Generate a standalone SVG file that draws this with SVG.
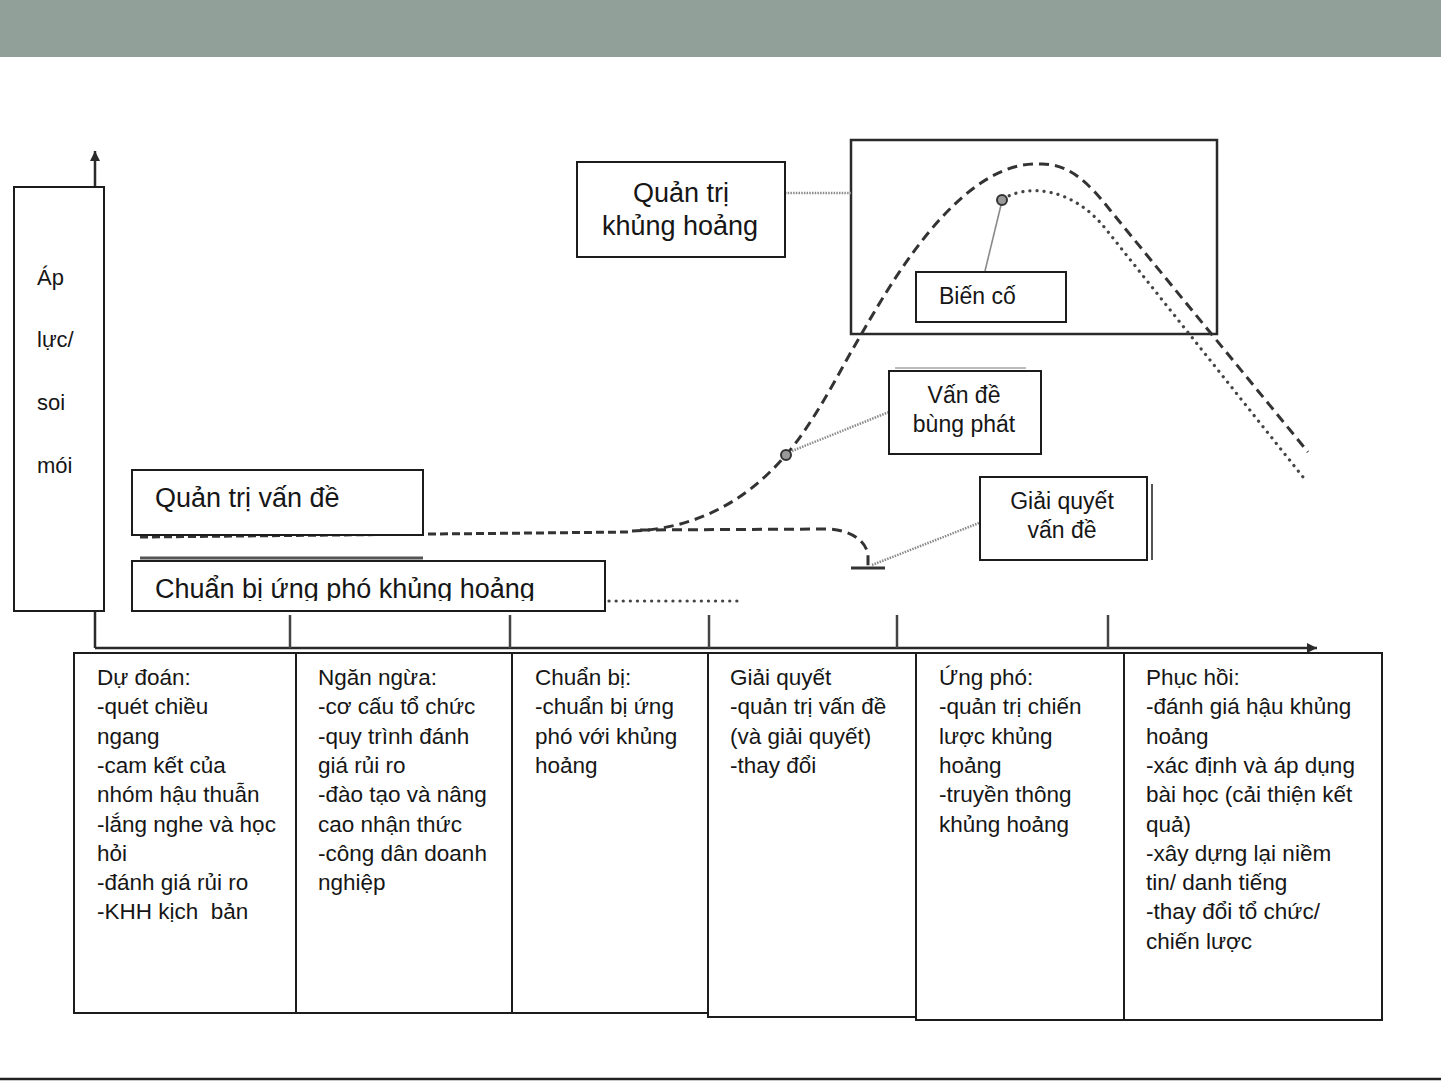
<svg xmlns="http://www.w3.org/2000/svg" width="1441" height="1081" viewBox="0 0 1441 1081">
<style>
  text { font-family: "Liberation Sans", Arial, sans-serif; fill: #161616; }
  .box { fill: #ffffff; stroke: #1c1c1c; stroke-width: 2; }
  .lbl { font-size: 27px; }
  .sm { font-size: 23px; }
  .body { font-size: 22.5px; white-space: pre; }
  .axis { stroke: #2a2a2a; stroke-width: 2.5; fill: none; }
  .tick { stroke: #444; stroke-width: 2.5; }
  .dash { stroke: #333; stroke-width: 3; fill: none; stroke-dasharray: 10 6; }
  .dashh { stroke: #333; stroke-width: 3; fill: none; stroke-dasharray: 8 4; }
  .dot { stroke: #444; stroke-width: 3.2; fill: none; stroke-dasharray: 0.1 7; stroke-linecap: round; }
  .lead { stroke: #8a8a8a; stroke-width: 2.5; fill: none; stroke-dasharray: 1.5 1.2; }
  .leads { stroke: #8a8a8a; stroke-width: 1.6; fill: none; }
  .pt { fill: #9a9a9a; stroke: #333; stroke-width: 2; }
</style>
<defs>
  <marker id="arr" viewBox="0 0 10 10" refX="10" refY="5" markerWidth="10" markerHeight="10" markerUnits="userSpaceOnUse" orient="auto">
    <path d="M0,0 L10,5 L0,10 z" fill="#2a2a2a"/>
  </marker>
  <clipPath id="clipPrep"><rect x="133" y="562" width="470" height="39"/></clipPath>
</defs>

<rect id="header" x="0" y="0" width="1441" height="57" fill="#91a199"/>
<line x1="0" y1="1079" x2="1441" y2="1079" stroke="#222" stroke-width="2.5"/>

<g id="connectors">
  <line class="axis" x1="95" y1="648" x2="95" y2="151" marker-end="url(#arr)"/>
  <line class="axis" x1="95" y1="648" x2="1317" y2="648" marker-end="url(#arr)"/>
  <line class="tick" x1="290" y1="615" x2="290" y2="648"/>
  <line class="tick" x1="510" y1="615" x2="510" y2="648"/>
  <line class="tick" x1="709" y1="615" x2="709" y2="648"/>
  <line class="tick" x1="897" y1="615" x2="897" y2="648"/>
  <line class="tick" x1="1108" y1="615" x2="1108" y2="648"/>
  <rect id="crisis-frame" x="851" y="140" width="366" height="194" fill="none" stroke="#2a2a2a" stroke-width="2.5"/>
  <path class="dashh" d="M140,537 L632,532"/>
  <path class="dash" d="M632,531 C690,529 742,506 786,455 C816,420 840,370 862,333 C890,285 960,160 1040,164 C1068,163 1088,182 1110,210 L1308,452"/>
  <path class="dash" d="M640,530 L828,529 C850,530 866,540 868,555 L868,567"/>
  <line x1="851" y1="568" x2="885" y2="568" stroke="#333" stroke-width="3"/>
  <path class="dot" d="M1003,199 C1025,185 1070,185 1105,228 L1303,477"/>
  <line class="dot" x1="609" y1="601" x2="737" y2="601"/>
  <line x1="140" y1="558" x2="423" y2="558" stroke="#555" stroke-width="3"/>
  <line class="lead" x1="785" y1="193" x2="851" y2="193"/>
  <line class="leads" x1="985" y1="271" x2="1001" y2="205"/>
  <line class="lead" x1="792" y1="451" x2="889" y2="412"/>
  <line class="lead" x1="979" y1="523" x2="872" y2="565"/>
  <line x1="895" y1="368" x2="1026" y2="368" stroke="#bbb" stroke-width="2"/>
  <line x1="1152" y1="484" x2="1152" y2="560" stroke="#555" stroke-width="2"/>
  <circle class="pt" cx="786" cy="455" r="5"/>
  <circle class="pt" cx="1002" cy="200" r="5"/>
</g>

<g id="node-pressure">
  <rect class="box" x="14" y="187" width="90" height="424"/>
  <text font-size="22px" x="37" y="285">Áp</text>
  <text font-size="22px" x="37" y="347">lực/</text>
  <text font-size="22px" x="37" y="410">soi</text>
  <text font-size="22px" x="37" y="473">mói</text>
</g>

<g id="node-issue-mgmt">
  <rect class="box" x="132" y="470" width="291" height="65"/>
  <text class="lbl" x="155" y="507">Quản trị vấn đề</text>
</g>

<g id="node-crisis-prep">
  <rect class="box" x="132" y="561" width="473" height="50"/>
  <text class="lbl" x="155" y="598" clip-path="url(#clipPrep)">Chuẩn bị ứng phó khủng hoảng</text>
</g>

<g id="node-crisis-mgmt">
  <rect class="box" x="577" y="162" width="208" height="95"/>
  <text class="lbl" x="681" y="202" text-anchor="middle">Quản trị</text>
  <text class="lbl" x="680" y="235" text-anchor="middle">khủng hoảng</text>
</g>

<g id="node-event">
  <rect class="box" x="916" y="272" width="150" height="50"/>
  <text class="sm" x="939" y="304">Biến cố</text>
</g>

<g id="node-outbreak">
  <rect class="box" x="889" y="371" width="152" height="83"/>
  <text class="sm" x="964" y="403" text-anchor="middle">Vấn đề</text>
  <text class="sm" x="964" y="432" text-anchor="middle">bùng phát</text>
</g>

<g id="node-resolve">
  <rect class="box" x="980" y="477" width="167" height="83"/>
  <text class="sm" x="1062" y="509" text-anchor="middle">Giải quyết</text>
  <text class="sm" x="1062" y="538" text-anchor="middle">vấn đề</text>
</g>

<g id="phase-forecast">
  <rect class="box" x="74" y="653" width="222" height="360"/>
  <text class="body">
    <tspan x="97" y="685">Dự đoán:</tspan>
    <tspan x="97" y="714.3">-quét chiều</tspan>
    <tspan x="97" y="743.6">ngang</tspan>
    <tspan x="97" y="772.9">-cam kết của</tspan>
    <tspan x="97" y="802.2">nhóm hậu thuẫn</tspan>
    <tspan x="97" y="831.5">-lắng nghe và học</tspan>
    <tspan x="97" y="860.8">hỏi</tspan>
    <tspan x="97" y="890.1">-đánh giá rủi ro</tspan>
    <tspan x="97" y="919.4">-KHH kịch  bản</tspan>
  </text>
</g>

<g id="phase-prevent">
  <rect class="box" x="296" y="653" width="216" height="360"/>
  <text class="body">
    <tspan x="318" y="685">Ngăn ngừa:</tspan>
    <tspan x="318" y="714.3">-cơ cấu tổ chức</tspan>
    <tspan x="318" y="743.6">-quy trình đánh</tspan>
    <tspan x="318" y="772.9">giá rủi ro</tspan>
    <tspan x="318" y="802.2">-đào tạo và nâng</tspan>
    <tspan x="318" y="831.5">cao nhận thức</tspan>
    <tspan x="318" y="860.8">-công dân doanh</tspan>
    <tspan x="318" y="890.1">nghiệp</tspan>
  </text>
</g>

<g id="phase-prepare">
  <rect class="box" x="512" y="653" width="196" height="360"/>
  <text class="body">
    <tspan x="535" y="685">Chuẩn bị:</tspan>
    <tspan x="535" y="714.3">-chuẩn bị ứng</tspan>
    <tspan x="535" y="743.6">phó với khủng</tspan>
    <tspan x="535" y="772.9">hoảng</tspan>
  </text>
</g>

<g id="phase-resolve">
  <rect class="box" x="708" y="653" width="208" height="364"/>
  <text class="body">
    <tspan x="730" y="685">Giải quyết</tspan>
    <tspan x="730" y="714.3">-quản trị vấn đề</tspan>
    <tspan x="730" y="743.6">(và giải quyết)</tspan>
    <tspan x="730" y="772.9">-thay đổi</tspan>
  </text>
</g>

<g id="phase-respond">
  <rect class="box" x="916" y="653" width="208" height="367"/>
  <text class="body">
    <tspan x="939" y="685">Ứng phó:</tspan>
    <tspan x="939" y="714.3">-quản trị chiến</tspan>
    <tspan x="939" y="743.6">lược khủng</tspan>
    <tspan x="939" y="772.9">hoảng</tspan>
    <tspan x="939" y="802.2">-truyền thông</tspan>
    <tspan x="939" y="831.5">khủng hoảng</tspan>
  </text>
</g>

<g id="phase-recover">
  <rect class="box" x="1124" y="653" width="258" height="367"/>
  <text class="body">
    <tspan x="1146" y="685">Phục hồi:</tspan>
    <tspan x="1146" y="714.3">-đánh giá hậu khủng</tspan>
    <tspan x="1146" y="743.6">hoảng</tspan>
    <tspan x="1146" y="772.9">-xác định và áp dụng</tspan>
    <tspan x="1146" y="802.2">bài học (cải thiện kết</tspan>
    <tspan x="1146" y="831.5">quả)</tspan>
    <tspan x="1146" y="860.8">-xây dựng lại niềm</tspan>
    <tspan x="1146" y="890.1">tin/ danh tiếng</tspan>
    <tspan x="1146" y="919.4">-thay đổi tổ chức/</tspan>
    <tspan x="1146" y="948.7">chiến lược</tspan>
  </text>
</g>
</svg>
